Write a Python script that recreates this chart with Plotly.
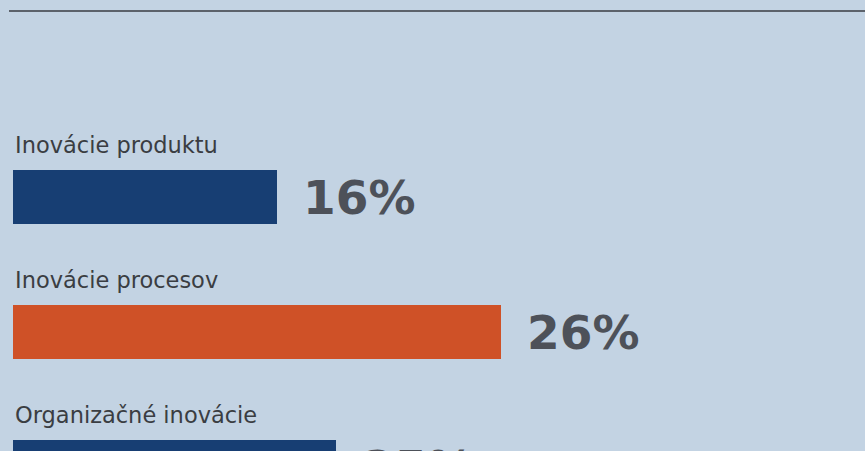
import plotly.graph_objects as go

categories = ["Inovácie produktu", "Inovácie procesov", "Organizačné inovácie"]
shares = [16, 26, 18.6]
share_labels = ["16%", "26%", "25%"]
colors = ["#173e73", "#cf5127", "#173e73"]

ypos = list(range(len(categories)))

FIG_H = 520  # the browser window shows only the top 451 px, like the reference crop

fig = go.Figure()
fig.add_trace(go.Bar(
    x=shares, y=ypos, orientation="h", width=0.4,
    marker=dict(color=colors, line=dict(width=0)),
    hoverinfo="skip",
))

for i, (cat, val, lab) in enumerate(zip(categories, shares, share_labels)):
    fig.add_annotation(x=0, xref="paper", y=i - 0.2, yref="y", text=cat,
                       xanchor="left", yanchor="bottom", showarrow=False,
                       xshift=0, yshift=10,
                       font=dict(family="DejaVu Sans", size=22.5, color="#3a3d42"))
    fig.add_annotation(x=val, xref="x", y=i, yref="y", text="<b>" + lab + "</b>",
                       xanchor="left", yanchor="middle", showarrow=False,
                       xshift=24,
                       font=dict(family="DejaVu Sans", size=47, color="#4d5159"))

fig.add_shape(type="line", xref="paper", yref="paper", x0=-4/852, x1=1.01,
              y0=1 - 11/FIG_H, y1=1 - 11/FIG_H, line=dict(color="#5c626b", width=2))

fig.update_layout(
    width=865, height=FIG_H,
    margin=dict(l=13, r=0, t=0, b=0),
    paper_bgcolor="#c3d3e3", plot_bgcolor="#c3d3e3",
    showlegend=False,
    xaxis=dict(range=[4.16, 42.3], visible=False, fixedrange=True),
    yaxis=dict(range=[(FIG_H - 197) / 135, -197 / 135], visible=False, fixedrange=True),
    bargap=0,
)

fig.write_html("out.html", config={"displayModeBar": False},
               post_script="document.body.style.margin='0';document.body.style.overflow='hidden';")
